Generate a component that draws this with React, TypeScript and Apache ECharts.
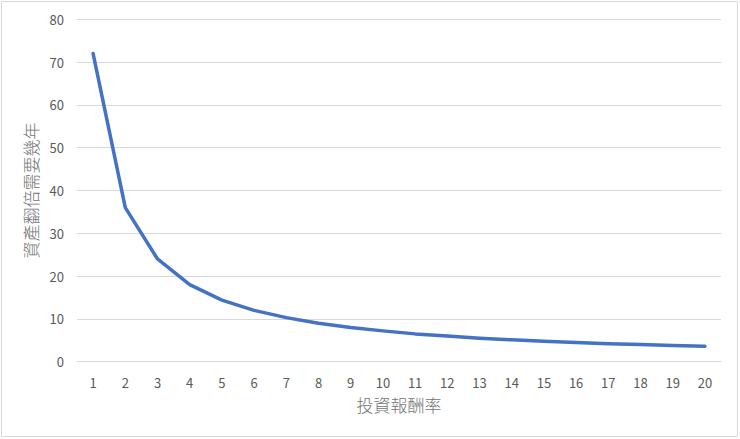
import { useEffect, useRef } from "react";
import * as echarts from "echarts";

const rates = ["1", "2", "3", "4", "5", "6", "7", "8", "9", "10", "11", "12", "13", "14", "15", "16", "17", "18", "19", "20"];
const yearsToDouble = [72, 36, 24, 18, 14.4, 12, 10.3, 9, 8, 7.2, 6.5, 6, 5.5, 5.1, 4.8, 4.5, 4.2, 4, 3.8, 3.6];

const FONT = "'Noto Sans CJK TC', 'Open Sans', sans-serif";
const TEXT = "#595959";
const NAME_TEXT = "#737373";
const GRID = "#d9d9d9";

export default function App() {
  const ref = useRef<HTMLDivElement>(null);

  useEffect(() => {
    document.body.style.margin = "0";
    if (!ref.current) return;
    const chart = echarts.init(ref.current, undefined, { renderer: "svg" });
    chart.setOption({
      animation: false,
      backgroundColor: "#ffffff",
      textStyle: { fontFamily: FONT },
      graphic: [
        {
          type: "rect",
          shape: { x: 1.5, y: 1.5, width: 736, height: 435 },
          style: { fill: "none", stroke: GRID, lineWidth: 1 },
          silent: true,
        },
      ],
      grid: { left: 77, right: 19, top: 19.3, bottom: 77.3 },
      xAxis: {
        type: "category",
        data: rates,
        boundaryGap: true,
        name: "投資報酬率",
        nameLocation: "middle",
        nameGap: 34,
        nameTextStyle: { color: NAME_TEXT, fontSize: 17, fontWeight: 300, fontFamily: FONT },
        axisLine: { lineStyle: { color: GRID, width: 1 } },
        axisTick: { show: false },
        axisLabel: { color: TEXT, fontSize: 13, margin: 14, fontFamily: FONT },
      },
      yAxis: {
        type: "value",
        min: 0,
        max: 80,
        interval: 10,
        name: "資產翻倍需要幾年",
        nameLocation: "middle",
        nameGap: 35,
        nameTextStyle: { color: NAME_TEXT, fontSize: 17, fontWeight: 300, fontFamily: FONT },
        axisLine: { show: false },
        axisTick: { show: false },
        axisLabel: { color: TEXT, fontSize: 13, margin: 13, fontFamily: FONT },
        splitLine: { lineStyle: { color: GRID, width: 1 } },
      },
      series: [
        {
          type: "line",
          data: yearsToDouble,
          showSymbol: false,
          lineStyle: { color: "#4472c4", width: 3.5, cap: "round", join: "round" },
          itemStyle: { color: "#4472c4" },
        },
      ],
    });
    return () => chart.dispose();
  }, []);

  return <div ref={ref} style={{ width: 740, height: 439 }} />;
}
